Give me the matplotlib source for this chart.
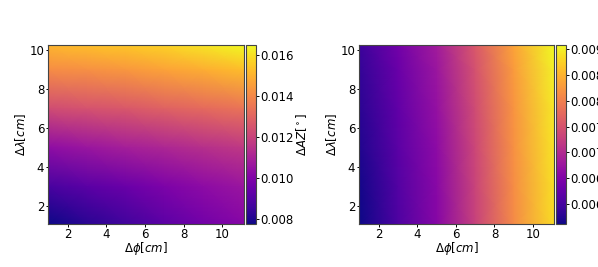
import numpy as np
import matplotlib
matplotlib.use("Agg")
import matplotlib.pyplot as plt

# node coordinates (cm)
dphi = [1.0, 3.0, 5.0, 7.0, 9.0, 11.1]
dlam = [1.05, 3.0, 5.0, 7.0, 9.0, 10.25]

# Delta AZ [deg], left panel (rows: dlam, cols: dphi)
az_left = [
    [0.00777, 0.00821, 0.00864, 0.00917, 0.00969, 0.01013],
    [0.00882, 0.00917, 0.00952, 0.00995, 0.01030, 0.01065],
    [0.01039, 0.01065, 0.01091, 0.01117, 0.01144, 0.01170],
    [0.01231, 0.01248, 0.01266, 0.01292, 0.01318, 0.01344],
    [0.01414, 0.01423, 0.01440, 0.01467, 0.01493, 0.01528],
    [0.01510, 0.01528, 0.01545, 0.01571, 0.01606, 0.01650],
]

# right panel
az_right = [
    [0.00561, 0.00606, 0.00655, 0.00728, 0.00811, 0.00884],
    [0.00564, 0.00610, 0.00658, 0.00731, 0.00814, 0.00887],
    [0.00571, 0.00617, 0.00662, 0.00735, 0.00818, 0.00891],
    [0.00578, 0.00623, 0.00669, 0.00741, 0.00821, 0.00894],
    [0.00585, 0.00630, 0.00676, 0.00748, 0.00828, 0.00901],
    [0.00592, 0.00637, 0.00682, 0.00755, 0.00835, 0.00908],
]

plt.rcParams['font.size'] = 8.5
W, H = 598, 267
fig = plt.figure(figsize=(W / 100, H / 100), dpi=100)


def px(x0, x1, ytop, ybot):
    return [x0 / W, (H - ybot) / H, (x1 - x0) / W, (ybot - ytop) / H]


ax1 = fig.add_axes(px(48.3, 243.7, 45, 224))
cax1 = fig.add_axes(px(245.5, 256, 45, 224))
ax2 = fig.add_axes(px(359.3, 554.3, 45, 224))
cax2 = fig.add_axes(px(555.7, 566, 45, 224))

X, Y = np.meshgrid(dphi, dlam)
for ax, cax, data in [(ax1, cax1, az_left), (ax2, cax2, az_right)]:
    Z = np.array(data)
    m = ax.pcolormesh(X, Y, Z, shading='gouraud', cmap='plasma',
                      vmin=Z.min(), vmax=Z.max())
    ax.set_xlim(dphi[0], dphi[-1])
    ax.set_ylim(dlam[0], dlam[-1])
    ax.set_xticks([2, 4, 6, 8, 10])
    ax.set_yticks([2, 4, 6, 8, 10])
    ax.tick_params(length=1.8, pad=1.2, width=0.7)
    ax.set_xlabel(r'$\Delta\phi[cm]$')
    ax.set_ylabel(r'$\Delta\lambda[cm]$')
    ax.xaxis.set_label_coords(0.5, -0.092)
    ax.yaxis.set_label_coords(-0.105, 0.5)
    for s in ax.spines.values():
        s.set_color('#444444')
    cb = fig.colorbar(m, cax=cax)
    cb.outline.set_edgecolor('#444444')
    cax.tick_params(length=1.8, pad=1.0, width=0.7)
    cb.set_label(r'$\Delta AZ[^\circ]$')
    cax.yaxis.set_label_coords(4.6, 0.5)

fig.savefig('out.png', dpi=100)
